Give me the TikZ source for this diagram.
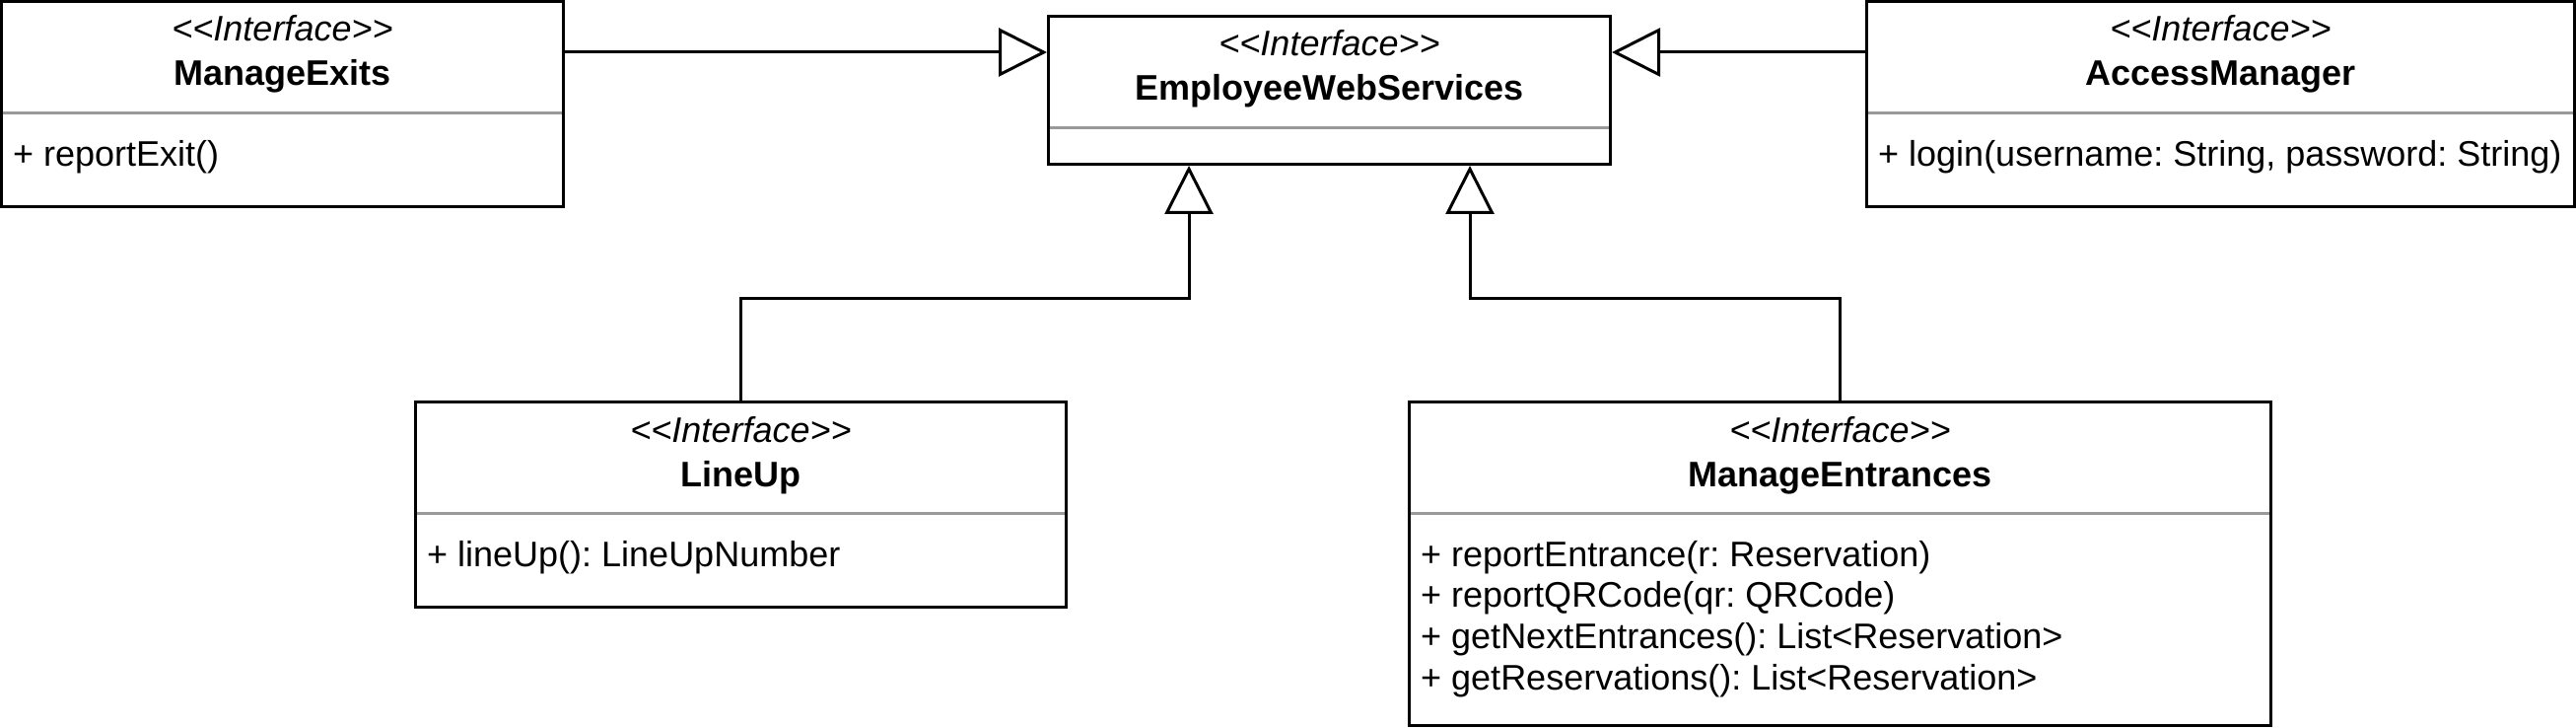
\documentclass[tikz,border=0pt]{standalone}
\usepackage{fontspec}
\newfontfamily\umlfont{Liberation Sans}
\usetikzlibrary{arrows.meta}
\definecolor{divgray}{RGB}{153,153,153}
\frenchspacing
\begin{document}
\begin{tikzpicture}[x=1pt,y=-1pt,
  umlbox/.style={draw=black, line width=3pt, fill=white, inner sep=0pt},
  stereo/.style={font=\umlfont\fontsize{36pt}{43pt}\selectfont\frenchspacing\itshape, inner sep=0pt, anchor=base},
  cname/.style={font=\umlfont\fontsize{36pt}{43pt}\selectfont\frenchspacing\bfseries, inner sep=0pt, anchor=base},
  member/.style={font=\umlfont\fontsize{36pt}{43pt}\selectfont\frenchspacing, inner sep=0pt, anchor=base west},
  divider/.style={draw=divgray, line width=3pt, shorten <=3pt, shorten >=3pt},
  gen/.style={draw=black, line width=3pt, -{Triangle[length=49pt,width=49pt,fill=white]}}
]
\useasboundingbox (0,0) rectangle (2613,738);

% boxes
\node[umlbox, minimum width=570pt, minimum height=208pt] (me) at (286.5,105.5) {};
\node[umlbox, minimum width=570pt, minimum height=150pt] (ews) at (1348.5,91.5) {};
\node[umlbox, minimum width=718pt, minimum height=208pt] (am) at (2252.5,105.5) {};
\node[umlbox, minimum width=660pt, minimum height=208pt] (lu) at (751.5,511.5) {};
\node[umlbox, minimum width=874pt, minimum height=328pt] (men) at (1866.5,571.5) {};

% dividers
\draw[divider] (me.west |- 0,115) -- (me.east |- 0,115);
\draw[divider] (ews.west |- 0,130) -- (ews.east |- 0,130);
\draw[divider] (am.west |- 0,115) -- (am.east |- 0,115);
\draw[divider] (lu.west |- 0,520) -- (lu.east |- 0,520);
\draw[divider] (men.west |- 0,520) -- (men.east |- 0,520);

% texts
\node[stereo] (me-s) at (me.north |- 0,42) {<<Interface>>};
\node[cname] (me-n) at (me.north |- 0,87) {ManageExits};
\node[member] (me-m1) at (13,169) {+ reportExit()};

\node[stereo] (ews-s) at (ews.north |- 0,57) {<<Interface>>};
\node[cname] (ews-n) at (ews.north |- 0,102) {EmployeeWebServices};

\node[stereo] (am-s) at (am.north |- 0,42) {<<Interface>>};
\node[cname] (am-n) at (am.north |- 0,87) {AccessManager};
\node[member] (am-m1) at (1905,169) {+ login(username: String, password: String)};

\node[stereo] (lu-s) at (lu.north |- 0,448) {<<Interface>>};
\node[cname] (lu-n) at (lu.north |- 0,493) {LineUp};
\node[member] (lu-m1) at (433,574) {+ lineUp(): LineUpNumber};

\node[stereo] (men-s) at (men.north |- 0,448) {<<Interface>>};
\node[cname] (men-n) at (men.north |- 0,493) {ManageEntrances};
\node[member] (men-m1) at (1441,574) {+ reportEntrance(r: Reservation)};
\node[member] (men-m2) at (1441,615.7) {+ reportQRCode(qr: QRCode)};
\node[member] (men-m3) at (1441,657.3) {+ getNextEntrances(): List<Reservation>};
\node[member] (men-m4) at (1441,699) {+ getReservations(): List<Reservation>};

% connectors
\coordinate (tL) at ([xshift=-142.5pt]ews.south);
\coordinate (tR) at ([xshift=142.5pt]ews.south);
\draw[gen] (me.east |- 0,53) -- (ews.west |- 0,53);
\draw[gen] (am.west |- 0,53) -- (ews.east |- 0,53);
\draw[gen] (lu.north) |- (tL |- 0,302) -- (tL);
\draw[gen] (men.north) |- (tR |- 0,302) -- (tR);
\end{tikzpicture}
\end{document}
